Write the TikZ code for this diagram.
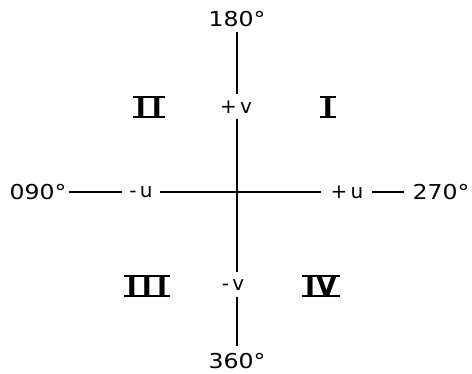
\documentclass[tikz,border=0pt]{standalone}
\usepackage{fontspec}
\setmainfont{DejaVu Sans}
\begin{document}
\begin{tikzpicture}[x=1pt,y=1pt,
  lbl/.style={font=\fontsize{20.5}{24}\selectfont, inner sep=0pt, transform shape, xscale=1.15},
  sml/.style={font=\fontsize{20}{22}\selectfont, inner sep=0pt},
  rn/.style={font=\fontsize{27}{30}\selectfont\bfseries, inner xsep=3pt, inner ysep=0pt, text height=19.5pt, text depth=0pt},
  ln/.style={line width=2.2pt},
  bar/.style={line width=2pt}]
\useasboundingbox (0,0) rectangle (472,374);
\coordinate (c) at (237,182);
% labels
\node[lbl] (n180) at (237,355) {180°};
\node[lbl] (n360) at (237,13) {360°};
\node[lbl] (n090) at (38,182) {090°};
\node[lbl] (n270) at (441,182) {270°};
\node[sml] (pv) at (236,267) {+\,v};
\node[sml] (mv) at (233,89) {-\,v};
\node[sml] (mu) at (141,182) {-\,u};
\node[sml] (pu) at (347,182) {+\,u};
% connectors
\draw[ln] ([yshift=-5pt]c |- n180.south) -- ([yshift=7pt]c |- pv.north);
\draw[ln] ([yshift=-6pt]c |- pv.south) -- ([yshift=7pt]c |- mv.north);
\draw[ln] ([yshift=-6pt]c |- mv.south) -- ([yshift=7pt]c |- n360.north);
\draw[ln] ([xshift=2pt]n090.east) -- ([xshift=-7pt]mu.west);
\draw[ln] ([xshift=7pt]mu.east) -- ([xshift=-9pt]pu.west);
\draw[ln] ([xshift=8pt]pu.east) -- ([xshift=-8pt]n270.west);
% quadrant numerals
\node[rn] (q2) at (149,267) {I\kern6pt I};
\node[rn] (q1) at (328,267) {I};
\node[rn] (q3) at (147,88) {I\kern5pt I\kern5pt I};
\node[rn] (q4) at (321,88) {I\kern1pt V};
\foreach \q in {q1,q2,q3,q4}{
  \draw[bar] (\q.north west) -- (\q.north east);
  \draw[bar] (\q.south west) -- (\q.south east);
}
\end{tikzpicture}
\end{document}
